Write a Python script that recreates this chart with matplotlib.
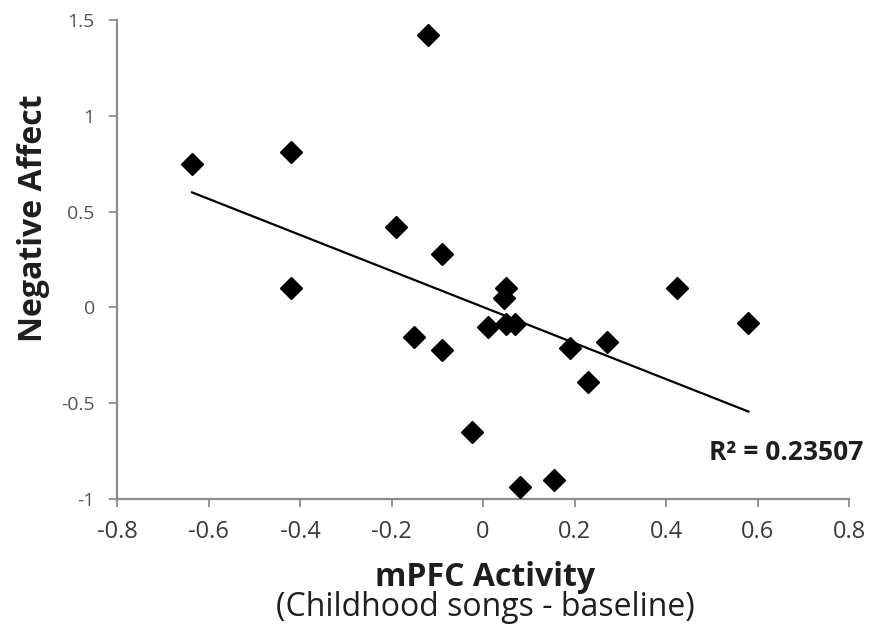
import numpy as np
import matplotlib
matplotlib.use("Agg")
import matplotlib.pyplot as plt

plt.rcParams['font.family'] = ['Open Sans', 'DejaVu Sans']

mpfc = [-0.636, -0.42, -0.42, -0.12, -0.19, -0.09, 0.05, 0.045, -0.15, -0.09,
        0.01, 0.05, 0.07, 0.19, 0.23, -0.025, 0.08, 0.155, 0.27, 0.425, 0.58]
neg_affect = [0.75, 0.81, 0.10, 1.42, 0.42, 0.28, 0.10, 0.05, -0.155, -0.22,
              -0.10, -0.085, -0.085, -0.21, -0.39, -0.65, -0.94, -0.90, -0.18, 0.10, -0.08]
x_ticks = [-0.8, -0.6, -0.4, -0.2, 0, 0.2, 0.4, 0.6, 0.8]
y_ticks = [-1, -0.5, 0, 0.5, 1, 1.5]
r2_label = "R² = 0.23507"

fig = plt.figure(figsize=(8.7, 6.29), dpi=100)
ax = fig.add_axes([0.1345, 0.2067, 0.8414, 0.7613])

x = np.array(mpfc)
y = np.array(neg_affect)
slope, intercept = np.polyfit(x, y, 1)
xl = np.array([x.min(), x.max()])
ax.plot(xl, slope * xl + intercept, color='black', lw=1.6, zorder=2)
ax.plot(x, y, linestyle='none', marker='D', markersize=11, color='black', zorder=3)

ax.set_xlim(-0.8, 0.8)
ax.set_ylim(-1, 1.5)
ax.set_xticks(x_ticks)
ax.set_xticklabels([f"{v:g}" for v in x_ticks], fontsize=17, color='#3a3a3a')
ax.set_yticks(y_ticks)
ax.set_yticklabels([f"{v:g}" for v in y_ticks], fontsize=14, color='#555555')
for s in ['top', 'right']:
    ax.spines[s].set_visible(False)
for s in ['left', 'bottom']:
    ax.spines[s].set_color('#8c8c8c')
    ax.spines[s].set_linewidth(1.6)
ax.tick_params(axis='both', direction='out', length=6, color='#8c8c8c', width=1.3)
ax.tick_params(axis='x', pad=9)
ax.tick_params(axis='y', pad=10)

fig.text(0.038, (629 - 218) / 629, "Negative Affect", rotation=90, ha='center', va='center',
         fontsize=23, fontweight='bold', color='#1e1e1e')
fig.text(485 / 870, (629 - 577) / 629, "mPFC Activity", ha='center', va='center',
         fontsize=23, fontweight='bold', color='#1e1e1e')
fig.text(485 / 870, (629 - 607) / 629, "(Childhood songs - baseline)", ha='center', va='center',
         fontsize=23, color='#1e1e1e')
ax.text(1.019, 0.098, r2_label, transform=ax.transAxes, ha='right', va='center',
        fontsize=19, fontweight='bold', color='#1e1e1e')

fig.savefig("out.png", dpi=100)
